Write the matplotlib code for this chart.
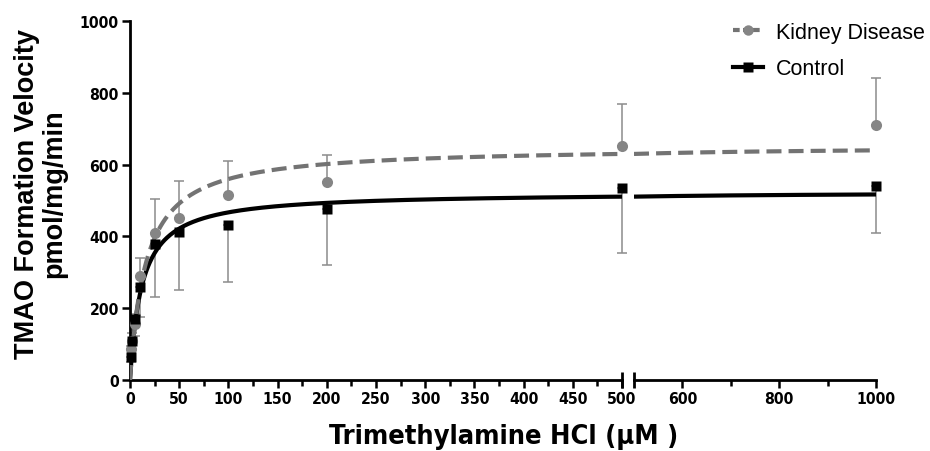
import numpy as np
import matplotlib
matplotlib.use("Agg")
import matplotlib.pyplot as plt
from matplotlib.lines import Line2D

# Substrate concentrations (uM)
conc = [1, 2.5, 5, 10, 25, 50, 100, 200, 500, 1000]

# Mean velocities (pmol/mg/min)
kidney_mean = [85, 110, 155, 290, 410, 452, 515, 551, 652, 710]
control_mean = [65, 110, 170, 260, 380, 412, 432, 476, 535, 540]

# SD shown one-sided: above for kidney disease, below for control
kidney_sd = [10, 20, 30, 50, 93, 101, 95, 75, 118, 132]
control_sd = [15, 25, 47, 85, 148, 162, 160, 156, 180, 130]

# Michaelis-Menten fit parameters
kidney_vmax, kidney_km = 650.0, 16.1
control_vmax, control_km = 523.0, 12.0

y_ticks = [0, 200, 400, 600, 800, 1000]
left_ticks = [0, 50, 100, 150, 200, 250, 300, 350, 400, 450, 500]
right_ticks = [600, 800, 1000]

GRAY_PT = "#858585"
GRAY_LINE = "#737373"
ERR = "#8c8c8c"

W, H = 930, 452
fig = plt.figure(figsize=(W / 100, H / 100), dpi=100)

def ax_rect(x0, x1, ytop, ybot):
    return [x0 / W, 1 - ybot / H, (x1 - x0) / W, (ybot - ytop) / H]

ax1 = fig.add_axes(ax_rect(130, 622, 22, 381))
ax2 = fig.add_axes(ax_rect(634, 876, 22, 381))

tick_font = dict(family="DejaVu Sans", stretch="condensed", weight="bold", size=11.3)

def mm(v, k, x):
    x = np.asarray(x, float)
    return v * x / (k + x)

conc_a = np.array(conc)
km_arr = np.array(kidney_mean)
cm_arr = np.array(control_mean)

for ax, lo, hi in ((ax1, 0, 500), (ax2, 500, 1000)):
    xs = np.linspace(lo, hi, 600)
    ax.plot(xs, mm(control_vmax, control_km, xs), color="black", lw=3.0,
            solid_capstyle="butt", zorder=3)
    ax.plot(xs, mm(kidney_vmax, kidney_km, xs), color=GRAY_LINE, lw=3.0,
            dashes=(3.6, 1.7), dash_capstyle="butt", zorder=4)
    if ax is ax1:
        sel = conc_a <= 500
    else:
        sel = conc_a > 500
    ks = np.array(kidney_sd)[sel]
    cs = np.array(control_sd)[sel]
    ax.errorbar(conc_a[sel], km_arr[sel], yerr=[np.zeros_like(ks), ks], fmt="none",
                ecolor=ERR, elinewidth=1.1, capsize=3.8, capthick=1.1, zorder=2,
                clip_on=False)
    ax.errorbar(conc_a[sel], cm_arr[sel], yerr=[cs, np.zeros_like(cs)], fmt="none",
                ecolor=ERR, elinewidth=1.1, capsize=3.8, capthick=1.1, zorder=2,
                clip_on=False)
    ax.plot(conc_a[sel], km_arr[sel], "o", color=GRAY_PT, ms=8, mec="none",
            zorder=5, clip_on=False)
    ax.plot(conc_a[sel], cm_arr[sel], "s", color="black", ms=7.5, mec="none",
            zorder=6, clip_on=False)
    ax.set_xlim(lo, hi)
    ax.set_ylim(0, 1000)
    for s in ("top", "right"):
        ax.spines[s].set_visible(False)
    ax.spines["bottom"].set_linewidth(2)
    ax.spines["left"].set_linewidth(2)
    ax.tick_params(axis="both", which="major", direction="out", length=6, width=1.8,
                   pad=2)
    ax.tick_params(axis="both", which="minor", direction="out", length=4, width=1.8)
    ax.patch.set_alpha(0)

ax1.set_xticks(left_ticks)
ax1.set_xticks(np.arange(25, 500, 50), minor=True)
ax1.set_xticklabels([str(t) for t in left_ticks], fontdict=tick_font)
ax1.set_yticks(y_ticks)
ax1.set_yticklabels([str(t) for t in y_ticks], fontdict=tick_font)

ax2.spines["left"].set_visible(False)
ax2.set_yticks([])
ax2.set_xticks(right_ticks)
ax2.set_xticks([700, 900], minor=True)
ax2.set_xticklabels([str(t) for t in right_ticks], fontdict=tick_font)

# axis break marks
for ax, xpos in ((ax1, 1.0), (ax2, 0.0)):
    ax.plot([xpos, xpos], [-0.022, 0.022], transform=ax.transAxes, color="black",
            lw=2, clip_on=False, solid_capstyle="butt")

fig.text(41 / W, 1 - 194 / H, "TMAO Formation Velocity\npmol/mg/min",
         rotation=90, ha="center", va="center", family="Liberation Sans",
         weight="bold", size=19.5, linespacing=1.05)
fig.text(504 / W, 1 - 437 / H, "Trimethylamine HCl (\u03bcM )", ha="center",
         va="center", family="DejaVu Sans", stretch="condensed",
         weight="bold", size=19.5)

handles = [
    Line2D([], [], color=GRAY_LINE, lw=3.0, dashes=(1.6, 0.8), marker="o", ms=7.5,
           mfc=GRAY_PT, mec="none"),
    Line2D([], [], color="black", lw=3.0, marker="s", ms=7.5, mfc="black", mec="none"),
]
fig.legend(handles, ["Kidney Disease", "Control"], loc="upper left",
           bbox_to_anchor=(724 / W, 1 - 14 / H), frameon=False,
           prop=dict(family="Liberation Sans", size=15.5), handlelength=1.4,
           handletextpad=0.6, labelspacing=0.72, borderaxespad=0)

fig.savefig("out.png", dpi=100)
